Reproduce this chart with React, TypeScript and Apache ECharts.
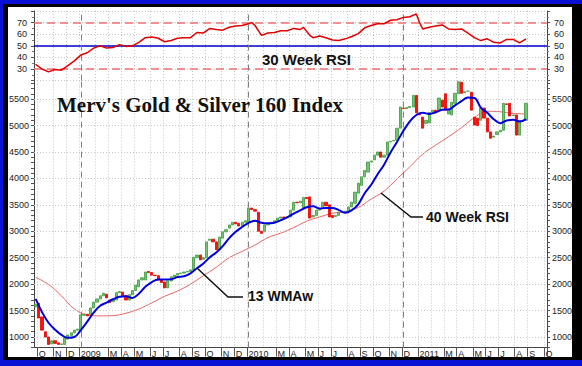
import React, { useEffect, useRef } from 'react';
import * as echarts from 'echarts';

// ---- data (weekly, index 0 = last week of Sep 2008) ----
const N_WEEKS = 159;
const opens = [
  1570, 1640, 1380, 1100, 1000, 870, 930, 890, 860, 860,
  960, 1030, 1080, 1130, 1100, 1410, 1430, 1420, 1550, 1660,
  1720, 1780, 1810, 1700, 1670, 1700, 1840, 1850, 1780, 1700,
  1800, 1880, 1950, 2080, 2080, 2240, 2220, 2170, 2160, 2080,
  2040, 1930, 2060, 2140, 2170, 2200, 2210, 2230, 2240, 2270,
  2500, 2550, 2470, 2500, 2830, 2850, 2800, 2650, 2870, 2990,
  3060, 3120, 3170, 3150, 3100, 3170, 3175, 3440, 3410, 3360,
  3000, 3000, 3120, 3150, 3170, 3200, 3250, 3270, 3260, 3270,
  3400, 3550, 3540, 3420, 3640, 3650, 3270, 3300, 3400, 3460,
  3550, 3500, 3300, 3280, 3300, 3360, 3360, 3380, 3460, 3530,
  3720, 3870, 4030, 4120, 4310, 4350, 4440, 4500, 4400, 4440,
  4690, 4710, 4720, 4950, 5330, 5320, 5340, 5350, 5570, 5220,
  5160, 5040, 5050, 5250, 5290, 5290, 5480, 5600, 5220, 5200,
  5420, 5600, 5820, 5620, 5650, 5630, 5160, 5140, 5100, 5330,
  5140, 4880, 4780, 4830, 4880, 4910, 5410, 5420, 5190, 5200,
  4820, 5080, 5100,
];
const closes = [
  1620, 1360, 1130, 1000, 860, 930, 880, 860, 870, 990,
  1040, 1080, 1130, 1150, 1420, 1430, 1400, 1550, 1660, 1720,
  1780, 1830, 1740, 1650, 1700, 1840, 1860, 1780, 1700, 1800,
  1880, 1980, 2080, 2120, 2230, 2220, 2170, 2160, 2080, 2030,
  1930, 2060, 2140, 2170, 2200, 2210, 2230, 2240, 2270, 2510,
  2550, 2460, 2500, 2800, 2850, 2800, 2650, 2890, 2990, 3030,
  3120, 3170, 3140, 3100, 3170, 3200, 3440, 3410, 3380, 3000,
  2960, 3120, 3150, 3170, 3200, 3250, 3270, 3260, 3280, 3400,
  3550, 3540, 3570, 3640, 3620, 3250, 3300, 3400, 3430, 3550,
  3480, 3270, 3260, 3300, 3360, 3360, 3380, 3460, 3550, 3740,
  3910, 4030, 4150, 4310, 4330, 4440, 4500, 4400, 4440, 4690,
  4700, 4720, 4950, 5350, 5320, 5340, 5360, 5570, 5240, 5200,
  4950, 5100, 5250, 5290, 5240, 5520, 5350, 5290, 5300, 5440,
  5610, 5830, 5610, 5640, 5650, 5290, 5010, 5000, 5330, 5140,
  4880, 4760, 4800, 4880, 4910, 5420, 5400, 5180, 5200, 4820,
  5100, 5090, 5420,
];
// 13 week weighted MA (blue): [week index, value]
const wma13: [number, number][] = [
  [0, 1720], [2, 1470], [4, 1270], [6, 1140], [8, 1040], [10, 985], [12, 1000],
  [14, 1130], [16, 1290], [18, 1460], [20, 1590], [22, 1650], [24, 1715], [26, 1760],
  [28, 1770], [30, 1740], [32, 1820], [34, 1950], [36, 2040], [38, 2090], [40, 2090],
  [42, 2095], [44, 2135], [46, 2150], [48, 2205], [50, 2300], [52, 2390], [54, 2510],
  [56, 2600], [58, 2720], [60, 2870], [62, 2990], [64, 3080], [66, 3160], [68, 3200],
  [70, 3160], [72, 3150], [74, 3160], [76, 3210], [78, 3265], [80, 3335], [82, 3395],
  [84, 3455], [86, 3475], [88, 3430], [90, 3440], [92, 3440], [94, 3400], [96, 3350],
  [98, 3400], [100, 3510], [102, 3720], [104, 3880], [106, 4080], [108, 4260], [110, 4490],
  [112, 4690], [114, 4900], [116, 5080], [118, 5200], [120, 5240], [122, 5220], [124, 5250],
  [126, 5300], [128, 5305], [130, 5380], [132, 5460], [134, 5530], [136, 5520], [138, 5340],
  [140, 5240], [142, 5120], [144, 5045], [146, 5095], [148, 5110], [150, 5075], [152, 5120],
];
// 40 week MA (thin red)
const ma40: [number, number][] = [
  [0, 2130], [4, 1995], [8, 1780], [12, 1530], [16, 1420], [20, 1400], [24, 1405],
  [28, 1450], [32, 1530], [36, 1645], [40, 1770], [44, 1870], [48, 2000], [52, 2160],
  [56, 2320], [60, 2500], [64, 2620], [68, 2740], [72, 2880], [76, 2965], [80, 3070],
  [84, 3190], [88, 3270], [92, 3340], [96, 3370], [100, 3450], [104, 3610], [108, 3760],
  [112, 3990], [116, 4220], [120, 4460], [124, 4630], [128, 4790], [132, 4960], [136, 5150],
  [140, 5270], [144, 5260], [148, 5230], [152, 5220],
];
// 30 week RSI
const rsi30: [number, number][] = [
  [0, 34], [2, 30], [4, 27.5], [6, 29.5], [8, 29], [10, 33], [12, 37], [14, 42], [16, 44],
  [18, 48], [20, 50], [22, 48], [24, 48.5], [26, 51], [28, 49.5], [30, 50], [32, 53],
  [34, 57], [36, 57.5], [38, 56.5], [40, 53.5], [42, 54.5], [44, 56.5], [46, 57], [48, 57],
  [50, 61.5], [52, 61], [54, 65], [56, 64], [58, 63.5], [60, 66], [62, 67], [64, 67.5],
  [66, 69], [67, 70], [68, 67.5], [70, 59], [72, 61], [74, 61.5], [76, 63], [78, 63],
  [80, 65], [82, 64], [83, 66], [85, 59], [86, 57], [88, 58.5], [90, 57], [92, 55],
  [94, 54.5], [96, 56], [98, 58], [100, 60.5], [102, 65.5], [104, 67.5], [106, 69],
  [108, 69], [110, 72], [112, 72.5], [114, 74.5], [116, 75], [118, 77.5], [119, 70],
  [120, 64.5], [122, 66], [124, 67], [126, 68], [128, 64.5], [130, 64], [132, 64.5],
  [134, 61], [136, 57], [138, 54.5], [140, 56], [142, 53], [144, 52.5], [146, 55.5],
  [148, 55.5], [150, 52.5], [152, 56],
];
// x-axis month tick labels: [week index, label]
const monthLabels: [number, string][] = [
  [1, 'O'], [6, 'N'], [10, 'D'], [14, '2009'], [23, 'M'], [27, 'A'], [31, 'M'], [36, 'J'],
  [40, 'J'], [45, 'A'], [49, 'S'], [53, 'O'], [58, 'N'], [62, 'D'], [66, '2010'], [75, 'M'],
  [79, 'A'], [84, 'M'], [88, 'J'], [92, 'J'], [97, 'A'], [101, 'S'], [105, 'O'], [110, 'N'],
  [114, 'D'], [119, '2011'], [127, 'M'], [131, 'A'], [136, 'M'], [140, 'J'], [144, 'J'],
  [149, 'A'], [153, 'S'], [158, 'O'],
];
const febWeeks = [19, 71, 123];
const dashedWeekLines = [14, 66, 114];
const priceGridLevels = [1000, 1500, 2000, 2500, 3000, 3500, 4000, 4500, 5000, 5500];
const rsiBands = [70, 30];
const rsiMid = 50;

const cats = Array.from({ length: N_WEEKS }, (_, i) => String(i));
const labelMap = new Map<number, string>(monthLabels);
const isLabel = (i: number) => labelMap.has(i);
const isMonth = (i: number) => labelMap.has(i) || febWeeks.includes(i);

const FONT = '"Liberation Sans", Arial, sans-serif';
const gridLine = { color: '#c6c6c6', type: [1, 2] as any, width: 1 };

export default function App() {
  const ref = useRef<HTMLDivElement>(null);
  useEffect(() => {
    if (!ref.current) return;
    const chart = echarts.init(ref.current, null, { renderer: 'svg' });
    const candleData = opens.map((o, i) => {
      const c = closes[i];
      return [o, c, Math.min(o, c), Math.max(o, c)];
    });
    const yearMark = {
      silent: true,
      symbol: ['none', 'none'],
      label: { show: false },
      lineStyle: { color: '#808080', type: [6, 4] as any, width: 1 },
      data: dashedWeekLines.map((w) => ({ xAxis: w })),
    };
    const priceAxis = (pos: 'left' | 'right') => ({
      type: 'value',
      gridIndex: 0,
      position: pos,
      min: 800,
      max: 5850,
      interval: 100,
      axisLine: { show: true, lineStyle: { color: '#444' } },
      axisTick: { show: true, length: 3, lineStyle: { color: '#555' } },
      axisLabel: {
        fontSize: 9,
        color: '#222',
        fontFamily: FONT,
        margin: 5,
        formatter: (v: number) => (v % 500 === 0 && v >= 1000 && v <= 5500 ? String(v) : ''),
      },
      splitLine: { show: false },
    });
    const rsiAxis = (pos: 'left' | 'right') => ({
      type: 'value',
      gridIndex: 1,
      position: pos,
      min: 20,
      max: 80,
      interval: 10,
      axisLine: { show: true, lineStyle: { color: '#444' } },
      axisTick: { show: true, length: 3, lineStyle: { color: '#555' } },
      minorTick: { show: true, splitNumber: 2, length: 2, lineStyle: { color: '#777' } },
      axisLabel: {
        fontSize: 9,
        color: '#222',
        fontFamily: FONT,
        margin: 7,
        formatter: (v: number) => (v >= 30 && v <= 70 ? String(v) : ''),
      },
      splitLine: { show: true, lineStyle: gridLine },
    });
    chart.setOption({
      animation: false,
      grid: [
        { left: 34, right: 35, top: 80.6, bottom: 18.4 },
        { left: 34, right: 35, top: 11, height: 69.6 },
      ],
      xAxis: [
        {
          type: 'category',
          gridIndex: 0,
          data: cats,
          boundaryGap: true,
          axisLine: { show: true, lineStyle: { color: '#444' } },
          axisTick: { show: true, interval: (i: number) => isLabel(i), length: 9, lineStyle: { color: '#555' } },
          axisLabel: {
            show: true,
            interval: (i: number) => isLabel(i),
            formatter: (_v: string, i: number) => labelMap.get(i) || '',
            align: 'left',
            fontSize: 9,
            color: '#222',
            fontFamily: FONT,
            margin: 2,
          },
          splitLine: { show: true, interval: (i: number) => isMonth(i), lineStyle: gridLine },
        },
        {
          type: 'category',
          gridIndex: 1,
          data: cats,
          boundaryGap: true,
          axisLine: { show: false },
          axisTick: { show: false },
          axisLabel: { show: false },
          splitLine: { show: true, interval: (i: number) => isMonth(i), lineStyle: gridLine },
        },
      ],
      yAxis: [priceAxis('left'), priceAxis('right'), rsiAxis('left'), rsiAxis('right')],
      series: [
        {
          name: '40 Week',
          type: 'line',
          xAxisIndex: 0,
          yAxisIndex: 0,
          data: ma40,
          smooth: 0.4,
          symbol: 'none',
          z: 3,
          lineStyle: { color: '#e86464', width: 1 },
          markLine: {
            silent: true,
            symbol: ['none', 'none'],
            label: { show: false },
            lineStyle: gridLine,
            data: priceGridLevels.map((v) => ({ yAxis: v })),
          },
        },
        {
          name: 'Index',
          type: 'candlestick',
          xAxisIndex: 0,
          yAxisIndex: 0,
          data: candleData,
          barWidth: 2.7,
          z: 5,
          itemStyle: {
            color: '#74c474',
            color0: '#ff1010',
            borderColor: '#3d9a3d',
            borderColor0: '#e80000',
            borderWidth: 0.8,
          },
          markLine: yearMark,
        },
        {
          name: '13 WMAw',
          type: 'line',
          xAxisIndex: 0,
          yAxisIndex: 0,
          data: wma13,
          smooth: 0.4,
          symbol: 'none',
          z: 6,
          lineStyle: { color: '#0000dd', width: 2 },
        },
        {
          name: '30 Week RSI',
          type: 'line',
          xAxisIndex: 1,
          yAxisIndex: 2,
          data: rsi30,
          symbol: 'none',
          z: 6,
          lineStyle: { color: '#e00000', width: 1.5 },
          markLine: {
            silent: true,
            symbol: ['none', 'none'],
            label: { show: false },
            data: [
              ...rsiBands.map((v) => ({ yAxis: v, lineStyle: { color: '#f07070', type: [8, 5] as any, width: 1.5 } })),
              { yAxis: rsiMid, lineStyle: { color: '#0000cc', type: 'solid', width: 1.5 } },
              ...dashedWeekLines.map((w) => ({ xAxis: w, lineStyle: { color: '#808080', type: [6, 4] as any, width: 1 } })),
            ],
          },
        },
      ],
      graphic: [
        {
          type: 'text',
          left: 57,
          top: 94,
          style: { text: "Merv's Gold & Silver 160 Index", font: 'bold 21px "Liberation Serif", "Times New Roman", serif', fill: '#111' },
          z: 20,
        },
        {
          type: 'text',
          left: 262,
          top: 52,
          style: { text: '30 Week RSI', font: `bold 15px ${FONT}`, fill: '#111' },
          z: 20,
        },
        {
          type: 'text',
          left: 426,
          top: 210,
          style: { text: '40 Week RSI', font: `bold 14px ${FONT}`, fill: '#111' },
          z: 20,
        },
        {
          type: 'text',
          left: 248,
          top: 289,
          style: { text: '13 WMAw', font: `bold 14px ${FONT}`, fill: '#111' },
          z: 20,
        },
        {
          type: 'polyline',
          shape: { points: [[197, 268], [228, 297], [243, 297]] },
          style: { stroke: '#111', lineWidth: 1.5, fill: null },
          z: 20,
        },
        {
          type: 'polyline',
          shape: { points: [[381, 193], [411, 217], [423, 217]] },
          style: { stroke: '#111', lineWidth: 1.5, fill: null },
          z: 20,
        },
      ],
    });
    return () => chart.dispose();
  }, []);

  return (
    <div style={{ position: 'absolute', left: 0, top: 0, width: 582, height: 366, background: '#0a10d4', overflow: 'hidden' }}>
      <div style={{ position: 'absolute', left: 3, top: 4, width: 579, height: 356, background: '#000' }} />
      <div style={{ position: 'absolute', left: 8, top: 7, width: 564, height: 350, background: '#fff' }} />
      <div ref={ref} style={{ position: 'absolute', left: 0, top: 0, width: 582, height: 366 }} />
    </div>
  );
}
